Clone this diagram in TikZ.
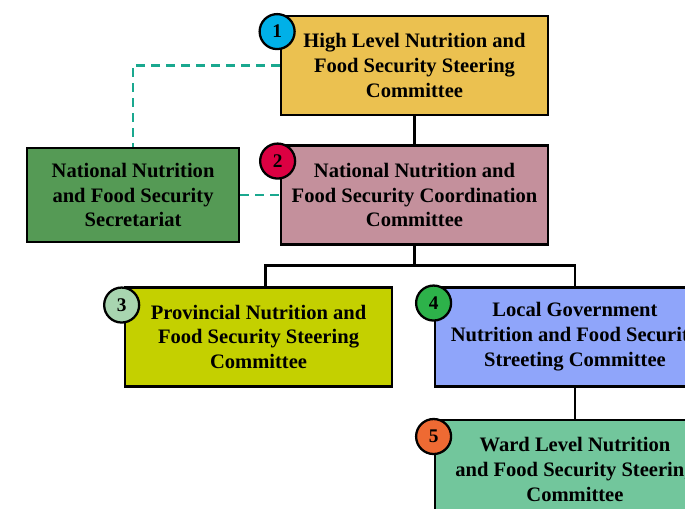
\documentclass[tikz,border=0pt]{standalone}
\usepackage{fontspec}
\setmainfont{Liberation Serif}
\usepackage{tikz}
\usetikzlibrary{positioning}
\pgfdeclarelayer{bg1}
\pgfsetlayers{bg1,main}
\definecolor{hlfill}{HTML}{EBC150}
\definecolor{ncfill}{HTML}{C4909C}
\definecolor{secfill}{HTML}{559A55}
\definecolor{provfill}{HTML}{C4D000}
\definecolor{lgfill}{HTML}{8FA5FA}
\definecolor{wardfill}{HTML}{72C69C}
\definecolor{numone}{HTML}{00B0E8}
\definecolor{numtwo}{HTML}{DC0042}
\definecolor{numthree}{HTML}{A8D5B0}
\definecolor{numfour}{HTML}{2DB24A}
\definecolor{numfive}{HTML}{EE6A33}
\definecolor{dashteal}{HTML}{1AA88F}
\tikzset{
	font = {\fontsize{11.7pt}{14.2pt}\selectfont\bfseries},
	box/.style = {rectangle, draw = black, line width = 1.6pt, minimum width = 5.34cm, minimum height = 1.98cm, align = center, inner sep = 0pt},
	widebox/.style = {box, minimum width = 5.6cm},
	secbox/.style = {box, minimum width = 4.24cm, minimum height = 1.88cm},
	num/.style = {circle, draw = black, line width = 1.3pt, minimum size = 0.7cm, inner sep = 0pt, font = {\fontsize{11pt}{11pt}\selectfont\bfseries}},
	link/.style = {draw = black, line width = 1.6pt},
	dashlink/.style = {draw = dashteal, line width = 1.6pt, dash pattern = on 5pt off 3.5pt}
}

\begin{document}
\begin{tikzpicture}[x=0.02cm, y=-0.02cm]
	\clip (0,0) rectangle (685,509);
	\useasboundingbox (0,0) rectangle (685,509);
	
	%%%%%%%% national level %%%%%%%%
	\node (hl) [box, fill = hlfill] at (414.5,65.5) {High Level Nutrition and\\Food Security Steering\\Committee};
	\node (nc) [box, fill = ncfill, below of = hl, yshift = -1.59cm] {National Nutrition and\\Food Security Coordination\\Committee};
	\node (sec) [secbox, fill = secfill, left of = nc, xshift = -4.63cm] {National Nutrition\\and Food Security\\Secretariat};
	
	%%%%%%%% lower levels %%%%%%%%
	\node (prov) [box, fill = provfill, below of = nc, yshift = -1.84cm, xshift = -3.12cm] {Provincial Nutrition and\\Food Security Steering\\Committee};
	\node (lg) [widebox, fill = lgfill, below of = nc, yshift = -1.84cm, xshift = 3.21cm] {Local Government\\Nutrition and Food Security\\Streeting Committee};
	\node (ward) [widebox, fill = wardfill, below of = lg, yshift = -1.65cm] {Ward Level Nutrition\\and Food Security Steering\\Committee};
	
	% number badges
	\node (n1) [num, fill = numone] at ([shift={(-0.05cm,-0.34cm)}]hl.north west) {1};
	\node (n2) [num, fill = numtwo] at ([shift={(-0.04cm,-0.34cm)}]nc.north west) {2};
	\node (n3) [num, fill = numthree] at ([shift={(-0.04cm,-0.38cm)}]prov.north west) {3};
	\node (n4) [num, fill = numfour] at ([shift={(0cm,-0.34cm)}]lg.north west) {4};
	\node (n5) [num, fill = numfive] at ([shift={(0cm,-0.36cm)}]ward.north west) {5};
	
	%%% connectors %%%
	\begin{pgfonlayer}{bg1}
	\draw [link] (hl.south) -- (nc.north);
	\draw [link] (nc.south) -- ++(0,20) coordinate (fork);
	\draw [link] ([xshift=0.14cm]prov.north) |- (fork) -| (lg.north);
	\draw [link] (lg.south) -- (ward.north);
	
	% secretariat
	\draw [dashlink] (hl.west) -| (sec.north);
	\draw [dashlink] (sec.east) -- (nc.west);
	\end{pgfonlayer}
\end{tikzpicture}
\end{document}
